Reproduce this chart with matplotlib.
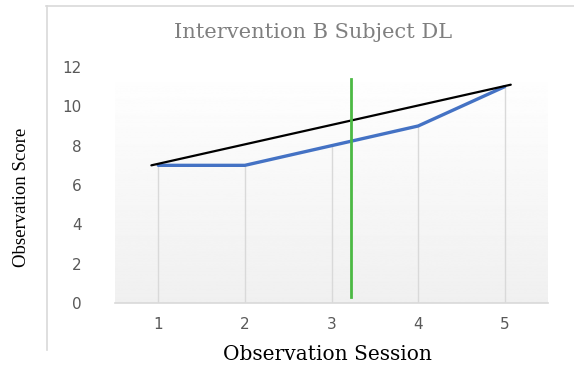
import matplotlib
matplotlib.use('Agg')
import matplotlib.pyplot as plt
from matplotlib.lines import Line2D
import numpy as np


sessions = [1, 2, 3, 4, 5]
scores = [7, 7, 8, 9, 11]
# hand drawn trend line and phase change line
trendX = [0.92, 5.07]
trendY = [7.0, 11.1]
phaseX = [3.22, 3.22]
phaseY = [0.3, 11.4]
yTicks = [0, 2, 4, 6, 8, 10, 12]

gridGray = '#d9d9d9'

fig = plt.figure(figsize=(5.74, 3.67), dpi=100)
ax = fig.add_axes([115/574, 1-303/367, 433/574, 236/367])

# light vertical gradient behind the plot
grad = np.linspace(0.94, 1.0, 256).reshape(-1, 1)
ax.imshow(grad, extent=[0.5, 5.5, 0, 12], origin='lower', aspect='auto',
          cmap='gray', vmin=0, vmax=1, zorder=0)

# drop lines from each point down to the axis
ax.vlines(sessions, 0, scores, colors=gridGray, lw=1.0, zorder=1)

ax.plot(sessions, scores, color='#4472c4', lw=2.4, solid_capstyle='round', zorder=3)
ax.plot(trendX, trendY, color='black', lw=1.6, solid_capstyle='round', zorder=4)
ax.plot(phaseX, phaseY, color='#4cb944', lw=2.0, zorder=5)

ax.set_xlim(0.5, 5.5)
ax.set_ylim(0, 12)
ax.set_xticks(sessions)
ax.set_yticks(yTicks)
ax.tick_params(axis='both', length=0, labelsize=11, labelcolor='#595959')
ax.tick_params(axis='y', pad=24)
ax.tick_params(axis='x', pad=10)
for s in ['top', 'right', 'left']:
  ax.spines[s].set_visible(False)
ax.spines['bottom'].set_color(gridGray)
ax.spines['bottom'].set_linewidth(1.2)

fig.text(313/574, 1-32/367, 'Intervention B Subject DL', ha='center', va='center',
         fontsize=15, color='#7f7f7f', family='DejaVu Serif')
fig.text(327/574, 1-355/367, 'Observation Session', ha='center', va='center',
         fontsize=14.5, color='black', family='DejaVu Serif')
fig.text(22/574, 1-197/367, 'Observation Score', ha='center', va='center',
         rotation=90, fontsize=13.5, color='black', family='Liberation Serif')

# chart frame edges
fig.add_artist(Line2D([46/574, 1.0], [1-6/367, 1-6/367], color=gridGray, lw=1.2))
fig.add_artist(Line2D([47/574, 47/574], [1-6/367, 1-350/367], color=gridGray, lw=1.2))

fig.savefig('out.png', dpi=100)
